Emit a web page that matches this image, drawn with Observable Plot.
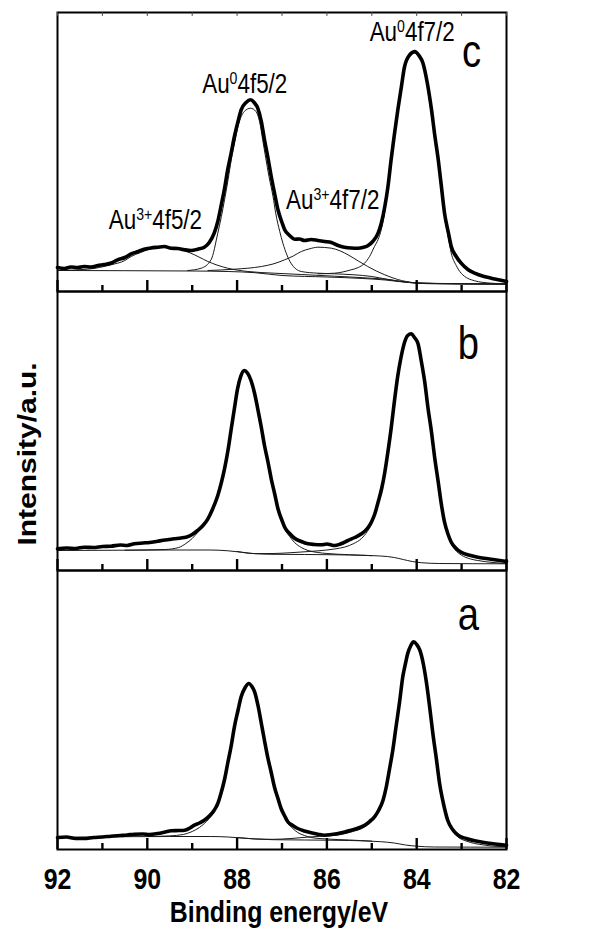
<!DOCTYPE html>
<html><head><meta charset="utf-8">
<script src="https://cdn.jsdelivr.net/npm/d3@7"></script>
<script src="https://cdn.jsdelivr.net/npm/@observablehq/plot@0.6"></script>
<style>body{margin:0;background:#fff}</style>
</head><body><div id="chart"></div>
<script>
// ---- data: [binding energy (eV), intensity (a.u., panel-relative)] ----
const panels = ["c", "b", "a"];
const majorTicks = [92, 90, 88, 86, 84, 82];
const minorTicks = [91, 89, 87, 85, 83];
const xTitle = "Binding energy/eV";
const yTitle = "Intensity/a.u.";
const panelLetters = [["c", 82.78, 225], ["b", 82.85, 212], ["a", 82.85, 220]];
// annotations (panel c): base, superscript, rest, energy, intensity
const annBase = ["Au", "Au", "Au", "Au"];
const annSup = ["0", "0", "3+", "3+"];
const annRest = ["4f7/2", "4f5/2", "4f7/2", "4f5/2"];
const annE = [84.1, 87.83, 85.87, 89.82];
const annI = [251, 199, 83, 63];

const cEnvelope = [[92.0,24],[91.85,23],[91.7,24.5],[91.55,24],[91.41,25],[91.25,24.5],[91.1,26],[90.96,27],[90.8,28.5],[90.66,31.7],[90.5,34],[90.36,37.7],[90.2,40],[90.07,42.3],[89.92,43.5],[89.77,44.3],[89.62,45],[89.47,43.3],[89.32,43],[89.17,41.7],[89.02,41],[88.88,42.3],[88.73,44.3],[88.62,49],[88.51,58.3],[88.43,70],[88.36,85],[88.28,103],[88.21,121.7],[88.13,139],[88.06,155],[87.98,170],[87.91,181.7],[87.8,189],[87.70,191.7],[87.62,189],[87.54,183.3],[87.46,170],[87.39,151.7],[87.31,133],[87.24,115],[87.16,97],[87.09,81.7],[87.0,69],[86.94,61.7],[86.83,56],[86.72,52.3],[86.61,52.5],[86.50,51],[86.35,52],[86.20,51],[86.05,50],[85.90,49],[85.75,46],[85.61,44.3],[85.46,43.5],[85.31,43.3],[85.2,44],[85.09,45.7],[84.98,50],[84.86,58.3],[84.79,68],[84.71,85],[84.64,105],[84.57,131.7],[84.5,156],[84.42,181.7],[84.34,205],[84.27,225],[84.15,237],[84.04,240],[83.95,236],[83.86,228.3],[83.77,210],[83.67,181.7],[83.6,157],[83.52,131.7],[83.45,105],[83.38,78.3],[83.3,60],[83.23,45],[83.12,35],[83.01,28.3],[82.86,22],[82.71,18.3],[82.5,15],[82.34,13.3],[82.15,11.5],[82.0,10]];
const cBackground = [[92,21],[90.5,20.8],[89,20.5],[88.2,20],[87.6,18.8],[87.0,16],[86.0,14.5],[85.2,13],[84.7,11.5],[84.3,9.5],[84.0,8.3],[83.6,7.7],[83.0,7.5],[82,7.4]];
const cAu3p52 = [[92,21],[91.33,22.3],[90.81,26.7],[90.5,31],[90.36,35],[90.15,39],[89.99,41.7],[89.7,44.3],[89.4,43.3],[89.2,41],[89.03,38.3],[88.85,34.5],[88.65,30],[88.45,26.5],[88.21,23.3],[87.76,20],[87.17,18.3],[86.57,17],[85.83,15.3],[85.09,13.5],[84.6,11.8],[84.34,10],[83.6,8],[82,7.5]];
const cAu052 = [[89.1,21],[88.8,23.3],[88.58,31.7],[88.43,58.3],[88.35,75],[88.28,91.7],[88.2,112],[88.13,131.7],[88.05,150],[87.98,165],[87.84,180],[87.70,183.3],[87.58,180],[87.5,170],[87.43,151.7],[87.36,133],[87.29,115],[87.2,95],[87.14,78.3],[87.05,60],[86.98,48.3],[86.8,28.3],[86.57,20],[86.2,18.3],[85.83,17.7],[85.0,15],[84.5,11],[84,8.5],[83,7.7],[82,7.5]];
const cAu3p72 = [[88.65,21],[88.06,22.3],[87.46,25],[87.2,27.5],[86.94,31.7],[86.75,35.5],[86.57,40],[86.4,42.5],[86.2,44.3],[85.9,43.3],[85.7,40.5],[85.53,36.7],[85.3,30.5],[85.09,25],[84.9,20.5],[84.71,16.7],[84.34,11],[83.88,8.3],[82,7.5]];
const cAu072 = [[86.2,17.7],[85.83,18.3],[85.46,21.7],[85.3,24],[85.16,28.3],[85.05,35],[84.94,45],[84.86,52],[84.79,61.7],[84.71,80],[84.64,105],[84.57,130],[84.5,158.3],[84.42,183],[84.34,205],[84.27,222],[84.2,231.7],[84.04,238.3],[83.95,235],[83.88,230],[83.8,214],[83.71,188.3],[83.6,155],[83.52,128.3],[83.45,100],[83.38,75],[83.3,55],[83.23,38.3],[83.12,26],[83.01,18.3],[82.71,10.7],[82.34,8.3],[82,7.7]];

const bEnvelope = [[92,21.7],[91.8,22.5],[91.6,22],[91.41,23.3],[91.2,23],[91.0,24],[90.81,24.3],[90.6,25.5],[90.45,25],[90.29,26.7],[90.1,27.5],[89.95,28],[89.77,29.3],[89.6,30.5],[89.40,31.7],[89.25,32.5],[89.14,33.3],[89.0,36],[88.88,40],[88.76,45],[88.65,51.7],[88.54,62],[88.43,75],[88.35,88],[88.28,101.7],[88.2,121],[88.13,141.7],[88.06,162],[87.99,181.7],[87.92,194],[87.84,200],[87.77,197.5],[87.69,190],[87.61,177],[87.54,161.7],[87.46,143],[87.39,125],[87.31,108],[87.24,91.7],[87.16,76],[87.09,61.7],[87.0,50],[86.94,43.3],[86.83,37],[86.72,32.3],[86.57,29],[86.42,26.7],[86.28,26],[86.13,25.7],[86.0,26.5],[85.9,25.5],[85.83,25],[85.7,26.5],[85.53,30],[85.38,33],[85.23,36.7],[85.1,42],[85.01,48.3],[84.93,57],[84.86,68.3],[84.78,82],[84.71,98.3],[84.64,119],[84.57,141.7],[84.5,168],[84.42,195],[84.35,213],[84.27,228.3],[84.2,235],[84.12,236.7],[84.05,233],[83.97,226.7],[83.9,210],[83.82,188.3],[83.75,163],[83.67,138.3],[83.6,113],[83.52,88.3],[83.45,66],[83.38,48.3],[83.3,36],[83.23,28.3],[83.12,22],[83.01,18.3],[82.8,15],[82.64,13.3],[82.3,11],[82.0,9]];
const bBackground = [[92,20],[90.5,20.3],[89.5,20.5],[88.6,20.5],[88.2,19.7],[87.9,18.3],[87.6,16.8],[87.2,16.2],[86.5,16],[85.5,15.5],[84.8,14.5],[84.5,13],[84.3,11],[84.1,9],[83.9,7.8],[83.5,7],[82,6.7]];
const bAu052 = [[90.5,20.3],[89.6,21],[89.3,23],[89.14,27],[89.0,32],[88.88,38],[88.76,44],[88.65,50.5],[88.54,61],[88.43,74],[88.35,87],[88.28,101],[88.2,120.5],[88.13,141],[88.06,161.5],[87.99,181],[87.92,193.5],[87.84,199.5],[87.77,197],[87.69,189.5],[87.61,176.5],[87.54,161],[87.46,142.5],[87.39,124.5],[87.31,107],[87.24,90.5],[87.16,75],[87.09,60.5],[87.0,48.5],[86.94,41.5],[86.83,34],[86.72,28],[86.57,23],[86.42,20],[86.2,18],[86.0,17],[85.5,15.8],[85,14.8]];
const bAu072 = [[88.0,19],[87.6,16.9],[87.2,17],[86.8,17.8],[86.4,19],[86.0,20.5],[85.83,21.5],[85.6,23.5],[85.4,27],[85.23,32],[85.1,39],[85.01,46],[84.93,55.5],[84.86,67],[84.78,81],[84.71,97.5],[84.64,118.5],[84.57,141],[84.5,167.5],[84.42,194.5],[84.35,212.5],[84.27,228],[84.2,234.5],[84.12,236.3],[84.05,232.5],[83.97,226],[83.9,209.5],[83.82,187.5],[83.75,162],[83.67,137.5],[83.6,112],[83.52,87],[83.45,65],[83.38,47],[83.3,34.5],[83.23,26.5],[83.12,19.5],[83.01,15.5],[82.8,11.5],[82.64,10],[82.3,8],[82.0,7]];

const aEnvelope = [[92,12],[91.8,12.5],[91.6,11],[91.41,11],[91.2,12],[91.0,12.5],[90.81,13.3],[90.6,14],[90.45,14.5],[90.29,15.3],[90.1,15.5],[89.95,15],[89.77,16],[89.6,17.5],[89.47,18.7],[89.3,19],[89.17,19.3],[89.05,21.5],[88.95,24.3],[88.84,26.5],[88.73,29.3],[88.62,33.5],[88.51,39.3],[88.43,46],[88.36,56],[88.28,70],[88.21,86],[88.13,104],[88.06,122.7],[87.98,139],[87.91,152.7],[87.82,162],[87.74,166],[87.67,163],[87.61,157.7],[87.53,143],[87.46,126],[87.39,109],[87.32,92.7],[87.24,77],[87.17,62.7],[87.09,51],[87.02,41],[86.94,33.5],[86.87,27.7],[86.76,24],[86.65,21],[86.5,18.5],[86.35,16.7],[86.2,15.3],[86.05,14.3],[85.9,15],[85.75,16],[85.6,17.5],[85.46,19.3],[85.3,21.5],[85.16,24.3],[85.05,28],[84.94,32.7],[84.85,39],[84.75,49.3],[84.68,62],[84.61,79.3],[84.53,100],[84.46,122.7],[84.38,148],[84.31,172.7],[84.25,186],[84.2,196],[84.13,204],[84.07,207.7],[84.0,205],[83.93,199.3],[83.85,185],[83.78,166],[83.71,142],[83.64,116],[83.56,90],[83.49,66],[83.4,45],[83.31,29.3],[83.2,20],[83.08,14.3],[82.9,11],[82.71,8.7],[82.5,7],[82.34,6],[82.15,5],[82.0,4.3]];
const aBackground = [[92,12],[90.5,12.8],[89.5,13],[88.6,13],[88.2,12.5],[87.9,11.5],[87.6,10.5],[87.2,9.8],[86.5,9.5],[85.5,9],[84.8,7.8],[84.5,6.5],[84.25,4.5],[84.0,3.3],[83.6,2.5],[82,2.3]];
const aAu052 = [[90.0,13],[89.5,13.6],[89.2,15],[89.0,18],[88.84,22],[88.73,26],[88.62,31],[88.51,37.5],[88.43,44.5],[88.36,54.5],[88.28,69],[88.21,85],[88.13,103.5],[88.06,122],[87.98,138.5],[87.91,152],[87.82,161.5],[87.74,165.5],[87.67,162.5],[87.61,157],[87.53,142.5],[87.46,125.5],[87.39,108.5],[87.32,92],[87.24,76.5],[87.17,62],[87.09,50],[87.02,40],[86.94,32],[86.87,26],[86.76,21],[86.65,17],[86.5,14],[86.35,12],[86.0,10.5],[85.5,9.5],[85,8.3]];
const aAu072 = [[88.0,12],[87.6,10.6],[87.2,10.2],[86.8,11],[86.4,12.5],[86.05,13.5],[85.75,14.5],[85.46,17.5],[85.16,22.5],[84.94,31],[84.85,37.5],[84.75,48],[84.68,61],[84.61,78.5],[84.53,99.5],[84.46,122],[84.38,147.5],[84.31,172],[84.25,185.5],[84.2,195.5],[84.13,203.5],[84.07,207.3],[84.0,204.5],[83.93,199],[83.85,184.5],[83.78,165.5],[83.71,141.5],[83.64,115.5],[83.56,89.5],[83.49,65.5],[83.4,44],[83.31,28],[83.2,18.5],[83.08,12.5],[82.9,8.5],[82.71,6],[82.5,4.5],[82.34,3.5],[82.0,2.8]];

// ---- tables built from the arrays ----
const seriesList = [
  ["c","envelope",cEnvelope,true],["c","bg",cBackground,false],["c","au3p52",cAu3p52,false],
  ["c","au052",cAu052,false],["c","au3p72",cAu3p72,false],["c","au072",cAu072,false],
  ["b","envelope",bEnvelope,true],["b","bg",bBackground,false],["b","au052",bAu052,false],["b","au072",bAu072,false],
  ["a","envelope",aEnvelope,true],["a","bg",aBackground,false],["a","au052",aAu052,false],["a","au072",aAu072,false]
];
const rows = seriesList.flatMap(([panel, name, pts, thick]) =>
  pts.map(([E, I]) => ({panel, series: panel + name, E, I, thick})));
const annotations = annBase.map((b, i) => ({panel: panels[0], base: b, sup: annSup[i], rest: annRest[i], E: annE[i], I: annI[i], label: b + annSup[i] + annRest[i]}));
const letters = panelLetters.map(([panel, E, I]) => ({panel, E, I}));
const yDomain = [0, 279];
const bottomPanel = panels[panels.length - 1];
const middlePanel = panels[1];

const W = 613, H = 932, mL = 57, mR = 107, mT = 12, mB = 83;
const pxPerUnit = ((H - mT - mB) / panels.length) / (yDomain[1] - yDomain[0]);
const len = px => px / pxPerUnit; // tick length (pixels) expressed in y units

const topSegs = majorTicks.concat(minorTicks).flatMap(E => [
  {panel: panels[0], id: "top" + E, E, I: yDomain[1]},
  {panel: panels[0], id: "top" + E, E, I: yDomain[1] - len(3)}
]);

const chart = Plot.plot({
  width: W, height: H,
  marginLeft: mL, marginRight: mR, marginTop: mT, marginBottom: mB,
  style: {fontFamily: "'Liberation Sans', Arial, sans-serif", color: "black", background: "white", overflow: "visible"},
  x: {domain: [92, 82], label: null},
  y: {domain: yDomain, axis: null},
  fy: {domain: panels, padding: 0, axis: null},
  marks: [
    Plot.line(rows.filter(d => !d.thick), {x: "E", y: "I", z: "series", fy: "panel", stroke: "#1a1a1a", strokeWidth: 1, curve: "monotone-x"}),
    Plot.line(rows.filter(d => d.thick), {x: "E", y: "I", z: "series", fy: "panel", stroke: "black", strokeWidth: 3.6, strokeLinejoin: "round", strokeLinecap: "round", curve: "monotone-x"}),
    Plot.frame({strokeWidth: 2}),
    // inward ticks, repeated on the bottom edge of every panel (non-faceted data repeat across facets)
    Plot.ruleX(majorTicks, {x: d => d, y1: yDomain[0], y2: yDomain[0] + len(11), stroke: "black", strokeWidth: 2.4}),
    Plot.ruleX(minorTicks, {x: d => d, y1: yDomain[0], y2: yDomain[0] + len(6), stroke: "black", strokeWidth: 2.4}),
    Plot.line(topSegs, {x: "E", y: "I", z: "id", fy: "panel", stroke: "#444", strokeWidth: 1}),
    Plot.axisX({ticks: majorTicks, tickSize: 0, tickPadding: 18, fontSize: 30, fontWeight: "bold", label: null}),
    Plot.text([xTitle], {text: d => d, fy: () => bottomPanel, frameAnchor: "bottom", lineAnchor: "bottom", dy: 72, dx: -3, fontSize: 30, fontWeight: "bold"}),
    Plot.text([yTitle], {text: d => d, fy: () => middlePanel, frameAnchor: "left", lineAnchor: "middle", rotate: -90, fontSize: 30, fontWeight: "bold"}),
    Plot.text(letters, {x: "E", y: "I", fy: "panel", text: "panel", lineAnchor: "bottom", fontSize: 46}),
    Plot.text(annotations, {x: "E", y: "I", fy: "panel", text: "label", lineAnchor: "bottom", fontSize: 27})
  ]
});
document.getElementById("chart").appendChild(chart);

const svg = chart.tagName.toLowerCase() === "svg" ? chart : chart.querySelector("svg");
const ns = "http://www.w3.org/2000/svg";
// superscripts
svg.querySelectorAll("text").forEach(t => {
  const a = annotations.find(d => d.label === t.textContent);
  if (!a) return;
  t.textContent = "";
  const t1 = document.createElementNS(ns, "tspan"); t1.textContent = a.base;
  const t2 = document.createElementNS(ns, "tspan"); t2.textContent = a.sup; t2.setAttribute("font-size", "17"); t2.setAttribute("dy", "-9");
  const t3 = document.createElementNS(ns, "tspan"); t3.textContent = a.rest; t3.setAttribute("dy", "9");
  t.append(t1, t2, t3);
});
// condensed glyphs (the reference's lettering is narrow)
let yTitleEl = null;
svg.querySelectorAll("text").forEach(t => {
  if (t.textContent === yTitle) yTitleEl = t;
  const b = t.getBBox();
  if (!b.width) return;
  const cx = b.x + b.width / 2, cy = b.y + b.height / 2;
  const tr = t.getAttribute("transform") || "";
  const ptr = (t.parentNode && t.parentNode.getAttribute && t.parentNode.getAttribute("transform")) || "";
  const rot = /rotate/.test(tr) || /rotate/.test(ptr);
  const s = rot ? "scale(1,0.83)" : "scale(0.83,1)";
  t.setAttribute("transform", `${tr} translate(${cx},${cy}) ${s} translate(${-cx},${-cy})`);
});
// place the y title beside the stacked frames: centred a little below the middle, left of the frame
if (yTitleEl) {
  const sr = svg.getBoundingClientRect();
  const r = yTitleEl.getBoundingClientRect();
  const wantX = mL * 0.48, wantY = mT + (H - mT - mB) * 0.528;
  const ddx = wantX - (r.left - sr.left + r.width / 2), ddy = wantY - (r.top - sr.top + r.height / 2);
  const g = document.createElementNS(ns, "g");
  g.setAttribute("transform", `translate(${ddx},${ddy})`);
  yTitleEl.parentNode.insertBefore(g, yTitleEl);
  g.appendChild(yTitleEl);
}
</script>
</body></html>
